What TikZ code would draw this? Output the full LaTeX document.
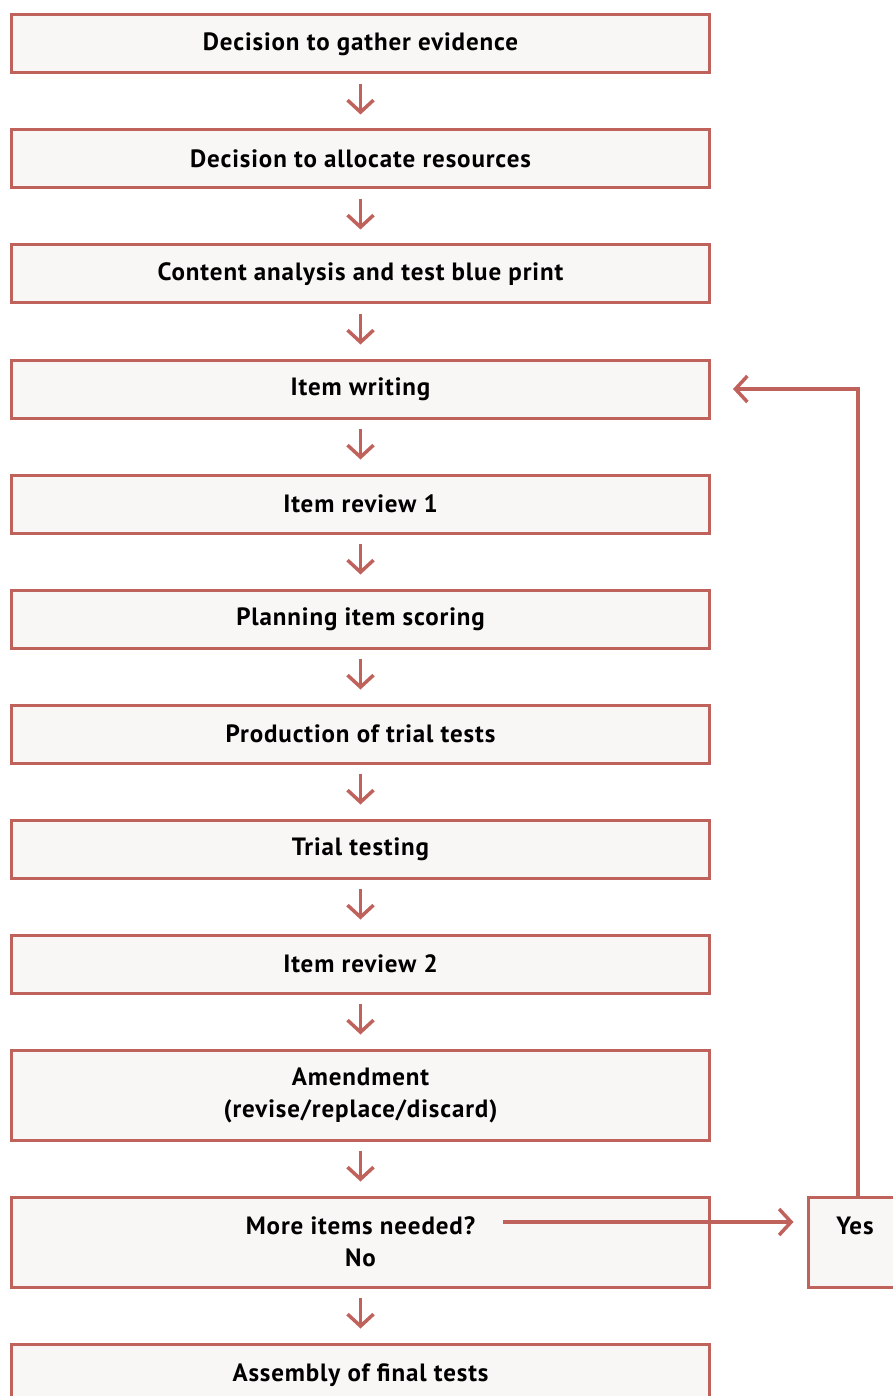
\documentclass[tikz,border=0pt]{standalone}
\usepackage{fontspec}
\setmainfont{PT Sans}[LetterSpace=3.5]
\usetikzlibrary{arrows.meta,calc}
\definecolor{edge}{RGB}{192,98,92}
\definecolor{boxfill}{RGB}{248,247,245}
\begin{document}
\begin{tikzpicture}[x=1pt,y=-1pt,
  box/.style={draw=edge, fill=boxfill, line width=3pt, minimum width=698pt, inner sep=0pt,
    align=center, font=\fontsize{25}{32}\selectfont\bfseries},
  conn/.style={draw=edge, line width=3.5pt, -{Straight Barb[length=12pt,width=26pt,line width=3.5pt]}}]
\useasboundingbox (0,0) rectangle (893,1396);
\node[box, minimum height=58pt] (b1) at (360.5,44) {Decision to gather evidence};
\node[box, minimum height=58pt] (b2) at (360.5,159) {Decision to allocate resources};
\node[box, minimum height=58pt] (b3) at (360.5,274) {Content analysis and test blue print};
\node[box, minimum height=58pt] (b4) at (360.5,389) {Item writing};
\node[box, minimum height=58pt] (b5) at (360.5,504) {Item review 1};
\node[box, minimum height=58pt] (b6) at (360.5,619) {Planning item scoring};
\node[box, minimum height=58pt] (b7) at (360.5,734) {Production of trial tests};
\node[box, minimum height=58pt] (b8) at (360.5,849) {Trial testing};
\node[box, minimum height=58pt] (b9) at (360.5,964) {Item review 2};
\node[box, minimum height=90pt] (b10) at (360.5,1095) {Amendment\\(revise/replace/discard)};
\node[box, minimum height=90pt] (b11) at (360.5,1242) {More items needed?\\No};
\node[box, minimum height=90pt] (b12) at (360.5,1389) {Assembly of final tests\\\phantom{No}};
\node[box, minimum width=94pt, minimum height=90pt] (yes) at (855,1242) {Yes\\\phantom{No}};
\foreach \a/\b in {b1/b2,b2/b3,b3/b4,b4/b5,b5/b6,b6/b7,b7/b8,b8/b9,b9/b10,b10/b11,b11/b12}{
  \draw[conn] ([yshift=-9.5pt]\a.south) -- ([yshift=14pt]\b.north);
}
\coordinate (mstart) at (503,1222);
\draw[conn, shorten >=13pt] (mstart) -- (mstart -| yes.west);
\draw[conn, shorten >=22pt] ([xshift=3pt]yes.north) |- (b4.east);
\end{tikzpicture}
\end{document}
